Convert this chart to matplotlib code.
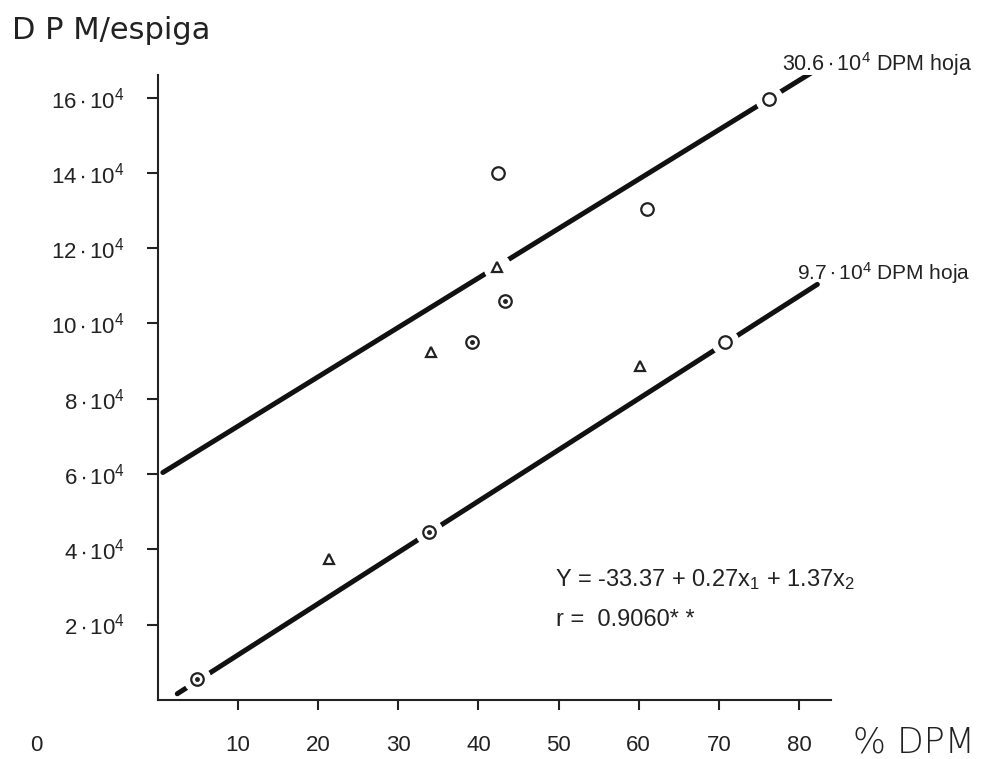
import matplotlib
matplotlib.use('Agg')
import matplotlib.pyplot as plt

plt.rcParams['font.family'] = ['Liberation Sans', 'DejaVu Sans']
plt.rcParams['mathtext.fontset'] = 'custom'
plt.rcParams['mathtext.rm'] = 'Liberation Sans'
plt.rcParams['mathtext.it'] = 'Liberation Sans'

# regression lines (x = % DPM, y = DPM/espiga in 10^4)
line_hi_x = [0.6, 82.3]
line_hi_y = [6.04, 16.76]
line_lo_x = [2.4, 82.3]
line_lo_y = [0.16, 11.04]

# observed points
circ_x = [76.3, 42.4, 61.0, 70.8]
circ_y = [15.96, 13.99, 13.03, 9.5]
dot_x = [43.3, 39.2, 33.8, 4.9]
dot_y = [10.6, 9.5, 4.47, 0.56]
tri_x = [42.3, 34.1, 60.2, 21.3]
tri_y = [11.5, 9.23, 8.86, 3.75]

xticks = [10, 20, 30, 40, 50, 60, 70, 80]
yticks = [2, 4, 6, 8, 10, 12, 14, 16]

ink = '#222222'

fig = plt.figure(figsize=(9.94, 7.59), dpi=100)
ax = fig.add_axes([0.159, 0.078, 0.677, 0.823])
ax.set_xlim(0, 84)
ax.set_ylim(0, 16.6)

ax.plot(line_hi_x, line_hi_y, color='#111111', lw=3.6, solid_capstyle='round', zorder=1)
ax.plot(line_lo_x, line_lo_y, color='#111111', lw=3.6, solid_capstyle='round', zorder=1)

# white halos break the lines around the markers
all_x = circ_x + dot_x + tri_x
all_y = circ_y + dot_y + tri_y
ax.plot(all_x, all_y, 'o', ms=19, color='white', mec='white', zorder=2)

ax.plot(circ_x, circ_y, 'o', ms=9, mfc='white', mec=ink, mew=1.6, zorder=3)
ax.plot(dot_x, dot_y, 'o', ms=9, mfc='white', mec=ink, mew=1.6, zorder=3)
ax.plot(dot_x, dot_y, 'o', ms=2.5, color=ink, zorder=4)
ax.plot(tri_x, tri_y, '^', ms=7, mfc='white', mec=ink, mew=1.6, zorder=3)

for s in ['top', 'right']:
    ax.spines[s].set_visible(False)
for s in ['left', 'bottom']:
    ax.spines[s].set_linewidth(1.5)
    ax.spines[s].set_color(ink)

ax.set_xticks(xticks)
ax.set_xticklabels([str(v) for v in xticks], fontsize=16)
ax.set_yticks(yticks)
ax.set_yticklabels([r'$\mathdefault{%d\bullet10^{4}}$' % v for v in yticks], fontsize=16)
ax.tick_params(axis='x', direction='out', length=7, width=1.5, pad=18, colors=ink)
ax.tick_params(axis='y', direction='out', length=8, width=1.5, pad=16, colors=ink)

fig.text(0.037, 0.018, '0', fontsize=16, color=ink, ha='center', va='center')
fig.text(0.858, 0.022, '% DPM', fontsize=25, color=ink, ha='left', va='center',
         family=['DejaVu Sans'], fontweight='light')
fig.text(0.012, 0.96, 'D P M/espiga', fontsize=22, color=ink, ha='left', va='center',
         family=['DejaVu Sans'])

ax.text(77.9, 16.52, r'$\mathdefault{30.6\bullet10^{4}}$ DPM hoja', fontsize=15.5,
        color=ink, ha='left', va='bottom')
ax.text(79.8, 11.0, r'$\mathdefault{9.7\bullet10^{4}}$ DPM hoja', fontsize=15,
        color=ink, ha='left', va='bottom')
ax.text(49.5, 3.2, r'Y = -33.37 + 0.27x$_\mathdefault{1}$ + 1.37x$_\mathdefault{2}$',
        fontsize=17, color=ink, ha='left', va='center')
ax.text(49.7, 2.13, r'r =  0.9060* *', fontsize=17, color=ink, ha='left', va='center')

fig.savefig('out.png', dpi=100, facecolor='white')
